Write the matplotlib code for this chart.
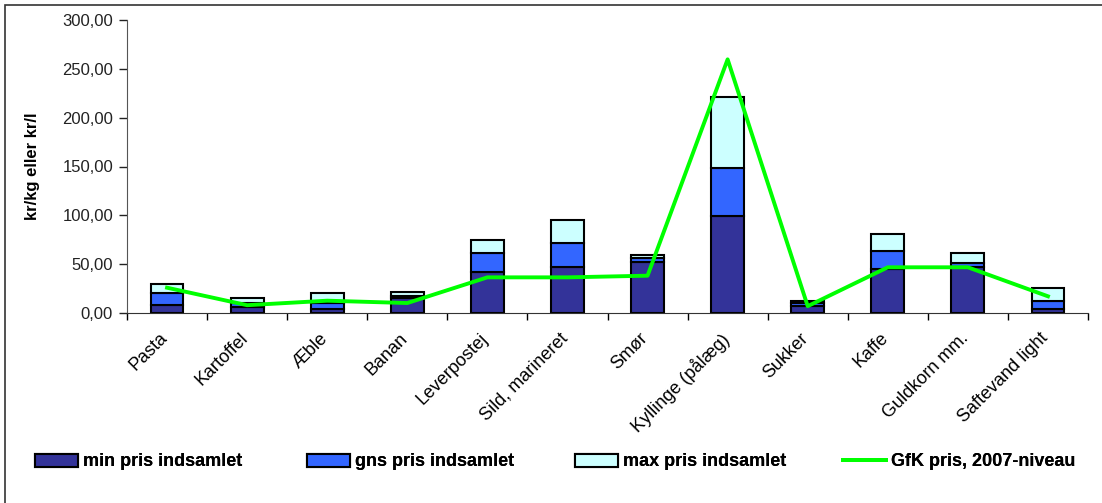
import matplotlib
matplotlib.use("Agg")
import matplotlib.pyplot as plt
import matplotlib.transforms as mtrans
import numpy as np
from matplotlib.patches import Rectangle
from matplotlib.ticker import FuncFormatter

categories = ["Pasta", "Kartoffel", "Æble", "Banan", "Leverpostej", "Sild, marineret",
              "Smør", "Kyllinge (pålæg)", "Sukker", "Kaffe", "Guldkorn mm.", "Saftevand light"]
min_pris = [8.5, 6.5, 4.4, 15.0, 42.3, 46.8, 52.6, 99.3, 7.5, 44.7, 47.4, 4.1]
gns_pris = [20.8, 10.0, 10.5, 17.0, 61.1, 71.7, 56.0, 148.8, 10.0, 63.8, 50.9, 12.3]
max_pris = [29.7, 15.0, 20.8, 21.2, 74.7, 95.5, 59.4, 220.8, 12.6, 80.9, 61.7, 25.6]
gfk_pris = [25.9, 8.0, 12.6, 10.2, 36.5, 36.5, 38.2, 259.7, 7.0, 46.8, 46.8, 17.1]
yticks = [0, 50, 100, 150, 200, 250, 300]
legend_labels = ["min pris indsamlet", "gns pris indsamlet", "max pris indsamlet", "GfK pris, 2007-niveau"]

plt.rcParams['font.family'] = ['Liberation Sans', 'DejaVu Sans']

W, H = 1102, 503
fig = plt.figure(figsize=(W/100, H/100), dpi=100)
ax = fig.add_axes([127/W, 1 - 313/H, (1088-127)/W, (313-20)/H])

x = np.arange(len(categories))
mn = np.array(min_pris); gn = np.array(gns_pris); mx = np.array(max_pris)
bw = 0.41
b1 = ax.bar(x, mn, bw, color="#333399", edgecolor="black", linewidth=1.5, zorder=2)
b2 = ax.bar(x, gn - mn, bw, bottom=mn, color="#3366FF", edgecolor="black", linewidth=1.5, zorder=2)
b3 = ax.bar(x, mx - gn, bw, bottom=gn, color="#CCFFFF", edgecolor="black", linewidth=1.5, zorder=2)
l1, = ax.plot(x, gfk_pris, color="#00FF00", linewidth=2.8, zorder=3)

ax.set_xlim(-0.5, len(categories) - 0.5)
ax.set_ylim(0, 300)
ax.set_yticks(yticks)
ax.yaxis.set_major_formatter(FuncFormatter(lambda v, p: f"{v:.2f}".replace(".", ",")))
ax.tick_params(axis='y', labelsize=12, length=6, width=1, direction='out', pad=4, colors='#222222')

ax.set_xticks(np.arange(len(categories) + 1) - 0.5)
ax.set_xticklabels([])
ax.tick_params(axis='x', length=5, width=1, direction='out')
ax.set_xticks(x, minor=True)
ax.set_xticklabels(categories, minor=True, rotation=45, ha='right', rotation_mode='anchor', fontsize=13)
ax.tick_params(axis='x', which='minor', length=0, pad=12)
off = mtrans.ScaledTranslation(-8/100, 0, fig.dpi_scale_trans)
for lab in ax.xaxis.get_minorticklabels():
    lab.set_transform(lab.get_transform() + off)

for s in ['top', 'right']:
    ax.spines[s].set_visible(False)
ax.spines['left'].set_color('#555555')
ax.spines['bottom'].set_color('#333333')

ax.set_ylabel("kr/kg eller kr/l", fontsize=12, fontweight='bold')
ax.yaxis.set_label_coords((40 - 127) / (1088 - 127), 0.5)

fig.patches.append(Rectangle((5/W, -0.1), 1.2, 1 - 5/H + 0.1, transform=fig.transFigure,
                             fill=False, edgecolor='#333333', linewidth=1.2))

handles = [b1, b2, b3, l1]
xs = [35, 307, 575, 843]
for h, lab, xp in zip(handles, legend_labels, xs):
    lg = fig.legend([h], [lab], loc='center left', bbox_to_anchor=(xp/W, 1 - 462/H),
                    frameon=False, prop={'weight': 'bold', 'size': 13},
                    handlelength=2.4, handleheight=0.7, handletextpad=0.25,
                    borderpad=0, borderaxespad=0)
    fig.add_artist(lg)

fig.savefig("out.png", dpi=100)
